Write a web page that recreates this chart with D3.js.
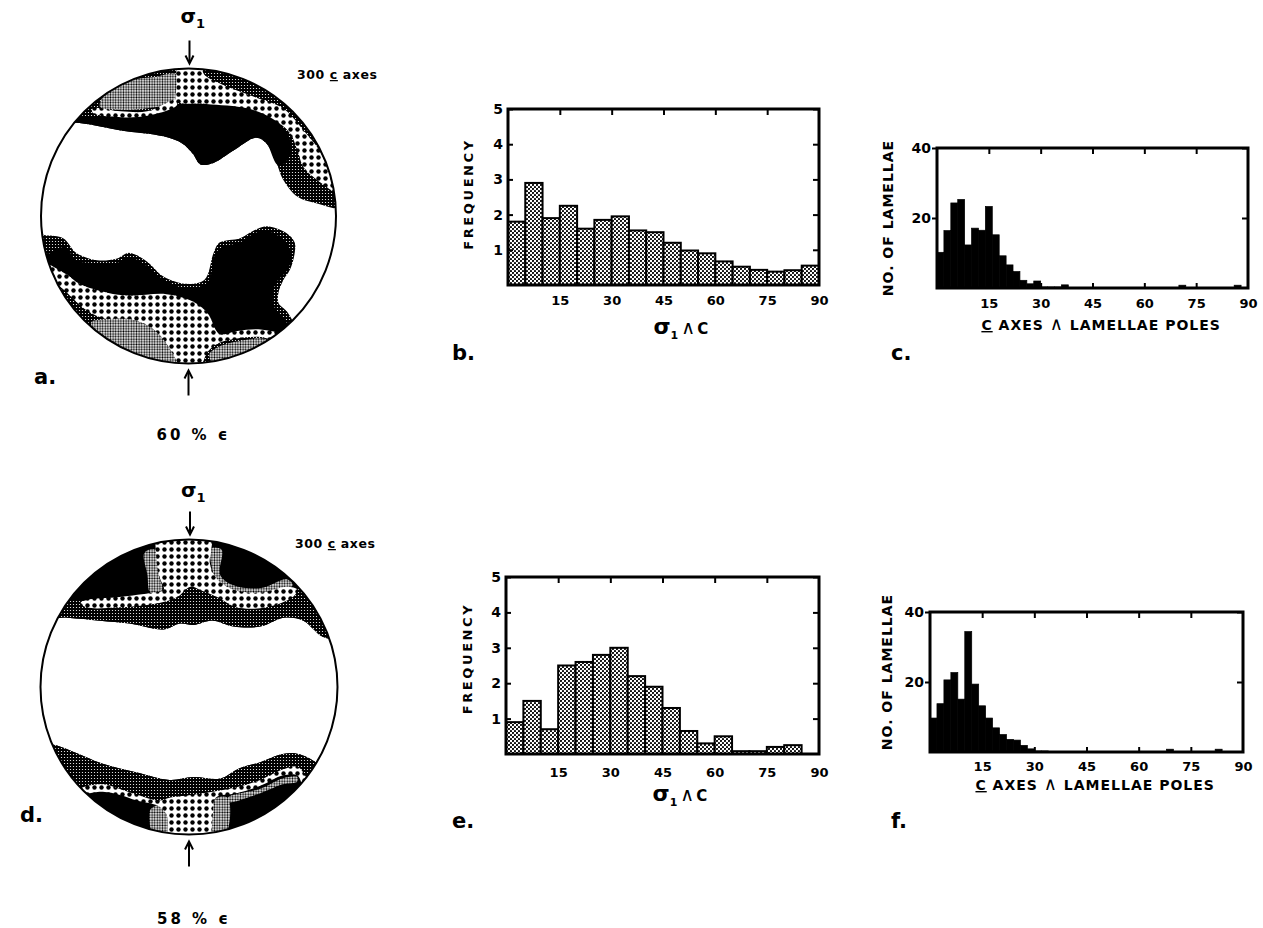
<!DOCTYPE html>
<html><head><meta charset="utf-8">
<script src="https://cdn.jsdelivr.net/npm/d3@7"></script>
<style>
body{margin:0;background:#fff;}
svg{display:block;}
text{font-family:"DejaVu Sans",sans-serif;font-weight:bold;fill:#000;}
</style></head><body>
<svg id="fig" width="1263" height="928"></svg>
<script>
// ================= DATA =================
// sigma1 ^ c histograms (5 degree bins)
const freqBins = [0,5,10,15,20,25,30,35,40,45,50,55,60,65,70,75,80,85];
const freqB = [1.8,2.9,1.9,2.25,1.6,1.85,1.95,1.55,1.5,1.2,0.98,0.9,0.67,0.52,0.43,0.38,0.42,0.55];
const freqE = [0.9,1.5,0.7,2.5,2.6,2.8,3.0,2.2,1.9,1.3,0.65,0.3,0.5,0.08,0.08,0.2,0.25,0];
const freqTickLabels = [1,2,3,4,5];
const angleTickLabels = [15,30,45,60,75,90];
const angleInnerTicks = [15,30,45,60,75];
// c axes ^ lamellae poles histograms (2 degree bins)
const lamBins = [0,2,4,6,8,10,12,14,16,18,20,22,24,26,28,30,32,34,36,38,40,42,44,46,48,50,52,54,56,58,60,62,64,66,68,70,72,74,76,78,80,82,84,86,88];
const lamC = [10.2,16.4,24.3,25.3,12.3,17.1,16.5,23.3,15.2,9.2,6.6,4.7,2.2,1.2,2.0,0.3,0.3,0.3,0.9,0,0,0,0,0,0,0,0,0,0,0,0,0,0,0,0,0.8,0,0,0,0,0,0,0,0.8,0];
const lamF = [9.7,13.8,20.6,22.7,15.1,34.4,19.4,13.2,9.7,6.9,5.0,3.6,3.4,1.9,0.9,0.3,0.3,0,0,0,0,0,0,0,0,0,0,0,0,0,0,0,0,0,0.8,0,0,0,0,0,0,0.8,0,0,0];
const lamTickLabels = [20,40];

// stereonet contour outlines: % of net radius from centre (x right, y down)
// net a (60 % strain)
const aTopBoundary = [[-110,-65],[-74,-63],[-46,-58],[-17,-54],[-4,-49],[3,-42],[8,-35],[17,-36],[30,-44],[46,-53],[53,-49],[60,-35],[64,-25],[74,-13],[89,-8],[100,-5],[115,-4]];
const aTopBlackEdge = [[-100,-68],[-71,-67],[-46,-69],[-28,-71],[-8,-76],[12,-76],[40,-74],[57,-67],[67,-56],[70,-44],[64,-35]];
const aTopLight = [[-55,-85],[-40,-92],[-24,-94],[-8,-96],[-8,-79],[-28,-73],[-46,-72],[-60,-74]];
const aTopCoarse = [[-6,-110],[10,-110],[10,-97],[21,-90],[44,-81],[64,-73],[78,-58],[89,-44],[97,-25],[102,-15],[89,-23],[78,-33],[74,-44],[69,-56],[57,-66],[40,-73],[12,-76],[-8,-78],[-8,-88]];
const aTopWavy = [[-65,-73],[-46,-71],[-28,-71],[-8,-79],[-8,-75],[-28,-68],[-46,-67],[-65,-70]];
const aBotBoundary = [[-115,12],[-97,13],[-85,15],[-76,25],[-62,30],[-49,29],[-40,25],[-28,31],[-17,41],[-1,46],[11,43],[17,25],[21,18],[35,15],[44,10],[53,7],[67,12],[72,18],[72,25],[69,36],[64,44],[61,52],[61,59],[67,65],[74,76],[90,91]];
const aBotBlackEdge = [[-84,21],[-76,30],[-62,32],[-49,32],[-40,28],[-28,34],[-17,43],[-1,49],[13,45],[18,26],[23,21],[35,18],[44,12],[53,10],[63,15],[69,23],[68,35],[59,46],[57,59],[64,69],[70,78]];
const aBotCoarseTop = [[-99,30],[-94,33],[-82,40],[-74,46],[-55,52],[-40,54],[-15,53],[3,58],[13,66],[21,80],[33,78],[49,77],[67,82]];
const aBotCoarseBottom = [[65,86],[49,82],[33,83],[21,86],[13,92],[8,101],[-8,101],[-14,88],[-25,76],[-40,70],[-55,70],[-69,64],[-87,48],[-99,40]];
const aBotLightL = [[-66,72],[-55,70],[-40,70],[-25,76],[-14,88],[-8,101],[-20,99],[-35,94],[-50,88],[-62,80]];
const aBotLightR = [[14,94],[22,88],[33,85],[49,83],[63,87],[55,92],[42,96],[28,99],[18,101]];
// net d (58 % strain)
const dTopBoundary = [[-110,-48],[-82,-47],[-60,-45],[-40,-43],[-17,-39],[-6,-43],[3,-42],[16,-45],[30,-41],[48,-41],[64,-47],[77,-45],[84,-39],[90,-34],[110,-32]];
const dTopDenseEdge = [[-110,-59],[-94,-59],[-69,-59],[-47,-61],[-24,-63],[1,-68],[19,-64],[32,-59],[52,-59],[70,-66],[78,-66],[88,-52],[98,-32],[110,-30]];
const dTopLightL = [[-30,-91],[-22,-93],[-20,-75],[-18,-66],[-26,-64],[-28,-76]];
const dTopLightR = [[15,-94],[22,-93],[21,-76],[30,-69],[48,-67],[66,-73],[70,-69],[66,-67],[48,-63],[30,-65],[19,-72],[15,-83]];
const dTopCoarse = [[-20,-110],[15,-110],[15,-93],[14,-84],[19,-73],[30,-66],[48,-64],[66,-68],[73,-66],[70,-61],[52,-54],[32,-54],[19,-61],[7,-66],[1,-68],[-8,-61],[-20,-57],[-47,-54],[-69,-54],[-73,-57],[-69,-59],[-47,-61],[-24,-64],[-17,-66],[-20,-75],[-22,-88]];
const dBotBoundary = [[-110,38],[-92,39],[-80,43],[-58,52],[-35,58],[-13,63],[3,61],[21,62],[34,55],[48,51],[61,46],[72,45],[84,50],[90,56],[110,56]];
const dBotDenseEdge = [[-110,62],[-82,67],[-69,70],[-47,72],[-24,79],[-13,77],[3,74],[16,72],[32,70],[48,65],[66,56],[73,56],[77,65],[110,70]];
const dBotLightL = [[-26,83],[-15,80],[-15,100],[-23,102]];
const dBotLightR = [[16,77],[26,75],[25,99],[16,102]];
const dBotLightArm = [[26,75],[48,69],[63,62],[73,61],[73,64],[63,66],[48,72],[26,78]];
const dBotCoarse = [[-73,69],[-58,66],[-47,69],[-35,73],[-20,77],[-13,75],[3,73],[16,71],[32,68],[48,63],[63,56],[73,54],[77,58],[82,70],[78,70],[73,60],[63,60],[48,67],[32,72],[18,75],[16,87],[13,104],[1,105],[-13,104],[-15,87],[-20,81],[-35,77],[-47,73],[-58,71],[-73,72]];

// ================= DRAWING =================
const svg = d3.select('#fig');
const defs = svg.append('defs');
function makePattern(id, size, bg, dots, r, dotColor) {
  const p = defs.append('pattern').attr('id', id).attr('patternUnits', 'userSpaceOnUse')
    .attr('width', size).attr('height', size);
  p.append('rect').attr('width', size).attr('height', size).attr('fill', bg);
  dots.forEach(d => p.append('circle').attr('cx', d[0] * size).attr('cy', d[1] * size).attr('r', r).attr('fill', dotColor));
}
makePattern('pBar', 4, '#fff', [[0.25,0.25],[0.75,0.75]], 1.1, '#000');
makePattern('pCoarse', 7, '#fff', [[0.5,0.5]], 2.2, '#000');
makePattern('pDense', 3, '#000', [[0.5,0.5]], 0.62, '#fff');
makePattern('pLight', 2.6, '#fff', [[0.5,0.5]], 1.0, '#000');

function styleAxis(sel, size) {
  sel.select('.domain').remove();
  sel.selectAll('line').attr('stroke', '#000').attr('stroke-width', 2);
  sel.selectAll('text').attr('font-family', 'DejaVu Sans').attr('font-weight', 'bold')
    .attr('font-size', size || 13).attr('fill', '#000');
}

function drawHist(cfg) {
  const g = svg.append('g');
  const x = d3.scaleLinear().domain([0, 90]).range([cfg.x0, cfg.x1]);
  const y = d3.scaleLinear().domain([0, cfg.yMax]).range([cfg.yB, cfg.yT]);
  const data = cfg.bins.map((b, i) => ({b, v: cfg.values[i]})).filter(d => d.v > 0);
  g.selectAll('rect.bar').data(data).join('rect').attr('class', 'bar')
    .attr('x', d => x(d.b)).attr('width', d => x(d.b + cfg.binW) - x(d.b))
    .attr('y', d => y(d.v)).attr('height', d => y(0) - y(d.v))
    .attr('fill', cfg.fill).attr('stroke', '#000').attr('stroke-width', cfg.barStroke);
  g.append('g').attr('transform', `translate(0,${cfg.yB})`)
    .call(d3.axisBottom(x).tickValues(cfg.bottomTicks).tickSize(-5).tickFormat(''))
    .call(s => styleAxis(s));
  g.append('g').attr('transform', `translate(0,${cfg.yB})`)
    .call(d3.axisBottom(x).tickValues(angleTickLabels).tickSize(0).tickPadding(cfg.xPad).tickFormat(d3.format('d')))
    .call(s => styleAxis(s));
  g.append('g').attr('transform', `translate(0,${cfg.yT})`)
    .call(d3.axisTop(x).tickValues(angleInnerTicks).tickSize(-6).tickFormat(''))
    .call(s => styleAxis(s));
  g.append('g').attr('transform', `translate(${cfg.x1},0)`)
    .call(d3.axisRight(y).tickValues(cfg.yTicks).tickSize(-6).tickFormat(''))
    .call(s => styleAxis(s));
  g.append('g').attr('transform', `translate(${cfg.x0},0)`)
    .call(d3.axisLeft(y).tickValues(cfg.yTicks).tickSize(cfg.leftTick).tickPadding(cfg.yPad).tickFormat(d3.format('d')))
    .call(s => styleAxis(s, 14));
  g.append('rect').attr('x', cfg.x0).attr('y', cfg.yT).attr('width', cfg.x1 - cfg.x0)
    .attr('height', cfg.yB - cfg.yT).attr('fill', 'none').attr('stroke', '#000').attr('stroke-width', 3);
  // y title
  g.append('text').attr('transform', `translate(${cfg.yTitleX},${(cfg.yT + cfg.yB) / 2 + cfg.yTitleShift}) rotate(-90)`)
    .attr('text-anchor', 'middle').attr('font-size', cfg.yTitleSize).attr('letter-spacing', cfg.yTitleLS)
    .attr('dy', '0.35em').text(cfg.yTitle);
  // x title
  if (cfg.sigmaTitle) {
    const t = g.append('text').attr('x', x(50)).attr('y', cfg.xTitleY).attr('text-anchor', 'middle');
    t.append('tspan').attr('font-size', 22).text('σ');
    t.append('tspan').attr('font-size', 11).attr('dy', 5).text('1');
    t.append('tspan').attr('font-size', 19).attr('dy', -5).attr('dx', 3).attr('font-weight', 'normal').text('∧');
    t.append('tspan').attr('font-size', 15).attr('dx', 2).text('C');
  } else {
    const t = g.append('text').attr('x', x(47.5)).attr('y', cfg.xTitleY).attr('text-anchor', 'middle')
      .attr('font-size', 14).attr('letter-spacing', 1);
    t.append('tspan').attr('text-decoration', 'underline').text('C');
    t.append('tspan').text(' AXES ');
    t.append('tspan').attr('font-size', 18).attr('font-weight', 'normal').text('∧');
    t.append('tspan').text(' LAMELLAE POLES');
  }
  svg.append('text').attr('x', cfg.panelX).attr('y', cfg.panelY)
    .attr('font-family', 'Liberation Sans').attr('font-size', 21).text(cfg.panel);
}

drawHist({x0: 508, x1: 819, yT: 109, yB: 285, yMax: 5, bins: freqBins, values: freqB, binW: 5,
  fill: 'url(#pBar)', barStroke: 2, bottomTicks: [], xPad: 11, yTicks: freqTickLabels, leftTick: -5, yPad: 5,
  yTitle: 'FREQUENCY', yTitleX: 468, yTitleShift: -3, yTitleSize: 13, yTitleLS: 2.6,
  sigmaTitle: true, xTitleY: 334, panel: 'b.', panelX: 452, panelY: 360});
drawHist({x0: 506, x1: 819, yT: 577, yB: 754, yMax: 5, bins: freqBins, values: freqE, binW: 5,
  fill: 'url(#pBar)', barStroke: 2, bottomTicks: [], xPad: 14, yTicks: freqTickLabels, leftTick: -5, yPad: 5,
  yTitle: 'FREQUENCY', yTitleX: 467, yTitleShift: -7, yTitleSize: 13, yTitleLS: 2.6,
  sigmaTitle: true, xTitleY: 801, panel: 'e.', panelX: 452, panelY: 828});
drawHist({x0: 937, x1: 1248, yT: 148, yB: 288, yMax: 40, bins: lamBins, values: lamC, binW: 2,
  fill: '#000', barStroke: 0.7, bottomTicks: angleInnerTicks, xPad: 11, yTicks: lamTickLabels, leftTick: 5, yPad: 1,
  yTitle: 'NO. OF LAMELLAE', yTitleX: 888, yTitleShift: 0, yTitleSize: 14, yTitleLS: 1,
  sigmaTitle: false, xTitleY: 330, panel: 'c.', panelX: 891, panelY: 360});
drawHist({x0: 930, x1: 1243, yT: 612, yB: 752, yMax: 40, bins: lamBins, values: lamF, binW: 2,
  fill: '#000', barStroke: 0.7, bottomTicks: angleInnerTicks, xPad: 10, yTicks: lamTickLabels, leftTick: 5, yPad: 1,
  yTitle: 'NO. OF LAMELLAE', yTitleX: 887, yTitleShift: -10, yTitleSize: 14, yTitleLS: 1,
  sigmaTitle: false, xTitleY: 790, panel: 'f.', panelX: 891, panelY: 828});

function drawNet(cfg) {
  const g = svg.append('g');
  const sx = d3.scaleLinear().domain([-100, 100]).range([cfg.cx - cfg.rx, cfg.cx + cfg.rx]);
  const sy = d3.scaleLinear().domain([-100, 100]).range([cfg.cy - cfg.ry, cfg.cy + cfg.ry]);
  const shape = d3.line().x(d => sx(d[0])).y(d => sy(d[1])).curve(d3.curveCatmullRomClosed.alpha(0.5));
  const clipId = 'clip' + cfg.id;
  defs.append('clipPath').attr('id', clipId).append('ellipse')
    .attr('cx', cfg.cx).attr('cy', cfg.cy).attr('rx', cfg.rx).attr('ry', cfg.ry);
  const inner = g.append('g').attr('clip-path', `url(#${clipId})`);
  inner.append('ellipse').attr('cx', cfg.cx).attr('cy', cfg.cy).attr('rx', cfg.rx).attr('ry', cfg.ry).attr('fill', '#fff');
  inner.selectAll('path.region').data(cfg.layers).join('path').attr('class', 'region')
    .attr('d', d => shape(d.pts)).attr('fill', d => d.fill);
  g.append('ellipse').attr('cx', cfg.cx).attr('cy', cfg.cy).attr('rx', cfg.rx).attr('ry', cfg.ry)
    .attr('fill', 'none').attr('stroke', '#000').attr('stroke-width', 2);
  // sigma 1 label + arrows
  const s = g.append('text').attr('x', cfg.cx - 8).attr('y', cfg.sigmaY).attr('text-anchor', 'start');
  s.append('tspan').attr('font-size', 20).text('σ');
  s.append('tspan').attr('font-size', 13).attr('dy', 5).text('1');
  const top = sy(-100), bot = sy(100);
  const ax = cfg.cx + 1;
  g.append('line').attr('x1', ax).attr('x2', ax).attr('y1', top - 28).attr('y2', top - 6).attr('stroke', '#000').attr('stroke-width', 2);
  g.append('path').attr('d', `M${ax - 4},${top - 13}L${ax},${top - 5}L${ax + 4},${top - 13}`).attr('fill', 'none').attr('stroke', '#000').attr('stroke-width', 2);
  g.append('line').attr('x1', ax - 1).attr('x2', ax - 1).attr('y1', bot + 32).attr('y2', bot + 8).attr('stroke', '#000').attr('stroke-width', 2);
  g.append('path').attr('d', `M${ax - 5},${bot + 15}L${ax - 1},${bot + 7}L${ax + 3},${bot + 15}`).attr('fill', 'none').attr('stroke', '#000').attr('stroke-width', 2);
  const c = g.append('text').attr('x', cfg.countX).attr('y', cfg.countY).attr('font-size', 12.5).attr('letter-spacing', 0.6);
  c.append('tspan').text('300 ');
  c.append('tspan').attr('text-decoration', 'underline').text('c');
  c.append('tspan').text(' axes');
  g.append('text').attr('x', cfg.cx + 5).attr('y', cfg.strainY).attr('text-anchor', 'middle')
    .attr('font-size', 15).attr('letter-spacing', 3).text(cfg.strain);
  g.append('text').attr('x', cfg.panelX).attr('y', cfg.panelY).attr('font-family', 'Liberation Sans').attr('font-size', 21).text(cfg.panel);
}

drawNet({id: 'A', cx: 188.5, cy: 216, rx: 147.5, ry: 147.5, sigmaY: 23, countX: 297, countY: 79,
  strainY: 440, strain: '60 % ϵ', panel: 'a.', panelX: 34, panelY: 384,
  layers: [
    {pts: aTopBoundary.concat([[115, -120], [-115, -120]]), fill: 'url(#pDense)'},
    {pts: aTopBlackEdge.concat(aTopBoundary.slice(0, 12).reverse()), fill: '#000'},
    {pts: aTopLight, fill: 'url(#pLight)'},
    {pts: aTopCoarse, fill: 'url(#pCoarse)'},
    {pts: aTopWavy, fill: 'url(#pCoarse)'},
    {pts: aBotBoundary.concat([[0, 130], [-130, 130]]), fill: 'url(#pDense)'},
    {pts: aBotBlackEdge.concat(aBotCoarseTop.slice().reverse()), fill: '#000'},
    {pts: aBotCoarseTop.concat(aBotCoarseBottom), fill: 'url(#pCoarse)'},
    {pts: aBotLightL, fill: 'url(#pLight)'},
    {pts: aBotLightR, fill: 'url(#pLight)'}
  ]});
drawNet({id: 'D', cx: 189, cy: 687, rx: 148.5, ry: 147.5, sigmaY: 497, countX: 295, countY: 548,
  strainY: 924, strain: '58 % ϵ', panel: 'd.', panelX: 20, panelY: 822,
  layers: [
    {pts: dTopBoundary.concat([[110, -120], [-110, -120]]), fill: '#000'},
    {pts: dTopDenseEdge.concat(dTopBoundary.slice().reverse()), fill: 'url(#pDense)'},
    {pts: dTopLightL, fill: 'url(#pLight)'},
    {pts: dTopLightR, fill: 'url(#pLight)'},
    {pts: dTopCoarse, fill: 'url(#pCoarse)'},
    {pts: dBotBoundary.concat([[110, 120], [-110, 120]]), fill: '#000'},
    {pts: dBotBoundary.concat(dBotDenseEdge.slice().reverse()), fill: 'url(#pDense)'},
    {pts: dBotLightL, fill: 'url(#pLight)'},
    {pts: dBotLightR, fill: 'url(#pLight)'},
    {pts: dBotLightArm, fill: 'url(#pLight)'},
    {pts: dBotCoarse, fill: 'url(#pCoarse)'}
  ]});
</script>
</body></html>
